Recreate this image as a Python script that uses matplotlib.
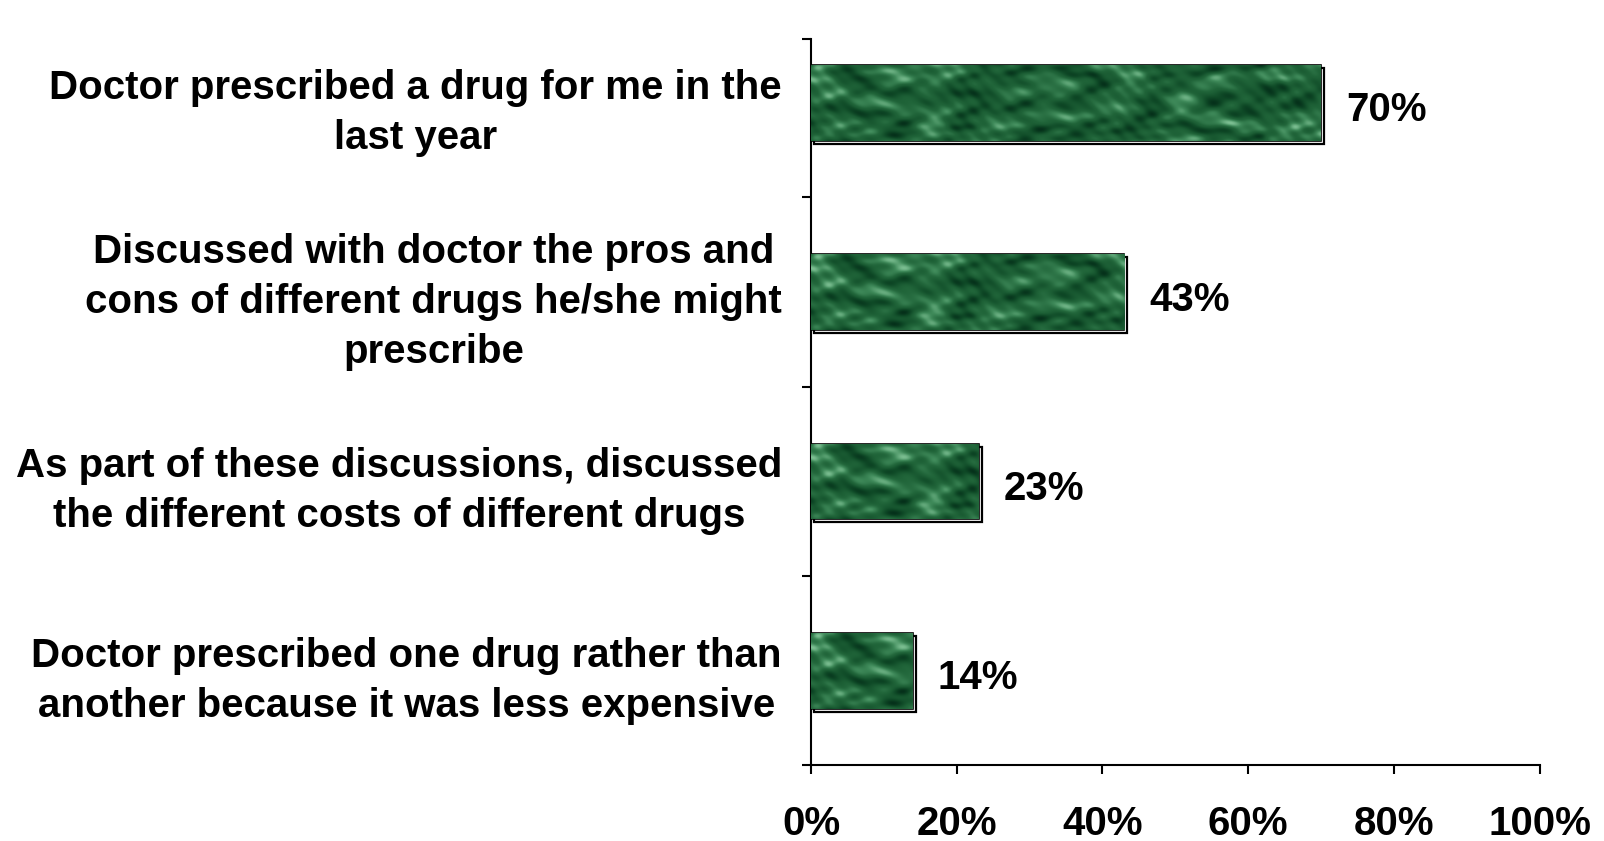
import matplotlib
matplotlib.use("Agg")
import matplotlib.pyplot as plt
import matplotlib.transforms as mtransforms
import numpy as np
from matplotlib.colors import LinearSegmentedColormap

# ---------------------------------------------------------------
#  Data
# ---------------------------------------------------------------
LABELS = [
    "Doctor prescribed a drug for me in the\nlast year",
    "Discussed with doctor the pros and\ncons of different drugs he/she might\nprescribe",
    "As part of these discussions, discussed\nthe different costs of different drugs",
    "Doctor prescribed one drug rather than\nanother because it was less expensive",
]
VALUES = [70, 43, 23, 14]
X_TICKS = [0, 20, 40, 60, 80, 100]

plt.rcParams["font.family"] = ["Liberation Sans", "DejaVu Sans"]

fig = plt.figure(figsize=(16.04, 8.41), dpi=100)
ax = fig.add_axes([0.5057, 0.090, 0.4541, 0.8638])

ypos = np.arange(len(VALUES))
bar_h = 0.40

# shadow frame offset to lower right
shadow_tr = ax.transData + mtransforms.ScaledTranslation(3 / 100, -3 / 100, fig.dpi_scale_trans)
ax.barh(ypos, VALUES, height=bar_h, color="white", edgecolor="black",
        linewidth=1.6, transform=shadow_tr, zorder=2)
bars = ax.barh(ypos, VALUES, height=bar_h, color="#2a6640", edgecolor="black",
               linewidth=1.2, zorder=3)

# marble-like texture, clipped to each bar (decoration only)
marble = LinearSegmentedColormap.from_list(
    "marble", ["#05301a", "#0f4a27", "#1f6338", "#3f8a5a", "#7cbf92"])
gx, gy = np.meshgrid(np.arange(700), np.arange(80))
warp = 3.0 * np.sin(gy * 0.061 + gx * 0.0137) + 2.2 * np.sin(gx * 0.0231 - gy * 0.043)
tex = (np.sin(gx * 0.031 + warp)
       + 0.7 * np.sin(gx * 0.113 + 1.9 * np.sin(gy * 0.17 + gx * 0.029))
       + 0.45 * np.sin(gx * 0.29 - gy * 0.33 + 2 * np.sin(gx * 0.041))
       + 0.35 * np.sin(gy * 0.41 + gx * 0.07 + 1.5 * np.sin(gy * 0.09)))
tex = np.sign(tex) * np.abs(tex) ** 1.3
for b, v in zip(bars, VALUES):
    y0 = b.get_y()
    im = ax.imshow(tex[:, : int(700 * v / 100) + 2], cmap=marble, aspect="auto",
                   extent=[0, v, y0 + bar_h, y0], zorder=3.5)
    im.set_clip_path(b)

for y, v in zip(ypos, VALUES):
    ax.text(v + 3.4, y + 0.04, f"{v}%", va="center", ha="left",
            fontsize=29, fontweight="bold")

# axes styling
ax.set_xlim(0, 100)
ax.set_ylim(3.5, -0.338)
ax.spines["top"].set_visible(False)
ax.spines["right"].set_visible(False)
for s in ("left", "bottom"):
    ax.spines[s].set_linewidth(1.5)

ax.set_xticks(X_TICKS)
ax.set_xticklabels([f"{t}%" for t in X_TICKS], fontsize=29, fontweight="bold")
ax.tick_params(axis="x", length=6.5, width=1.5, pad=22, direction="out")

ax.set_yticks([-0.338, 0.5, 1.5, 2.5, 3.5])
ax.set_yticklabels([])
ax.tick_params(axis="y", which="major", length=6.5, width=1.5)
ax.set_yticks(ypos, minor=True)
ax.set_yticklabels(LABELS, minor=True, fontsize=29, fontweight="bold",
                   multialignment="center", linespacing=1.4)
ax.tick_params(axis="y", which="minor", length=0, pad=21)

fig.savefig("out.png", dpi=100)
